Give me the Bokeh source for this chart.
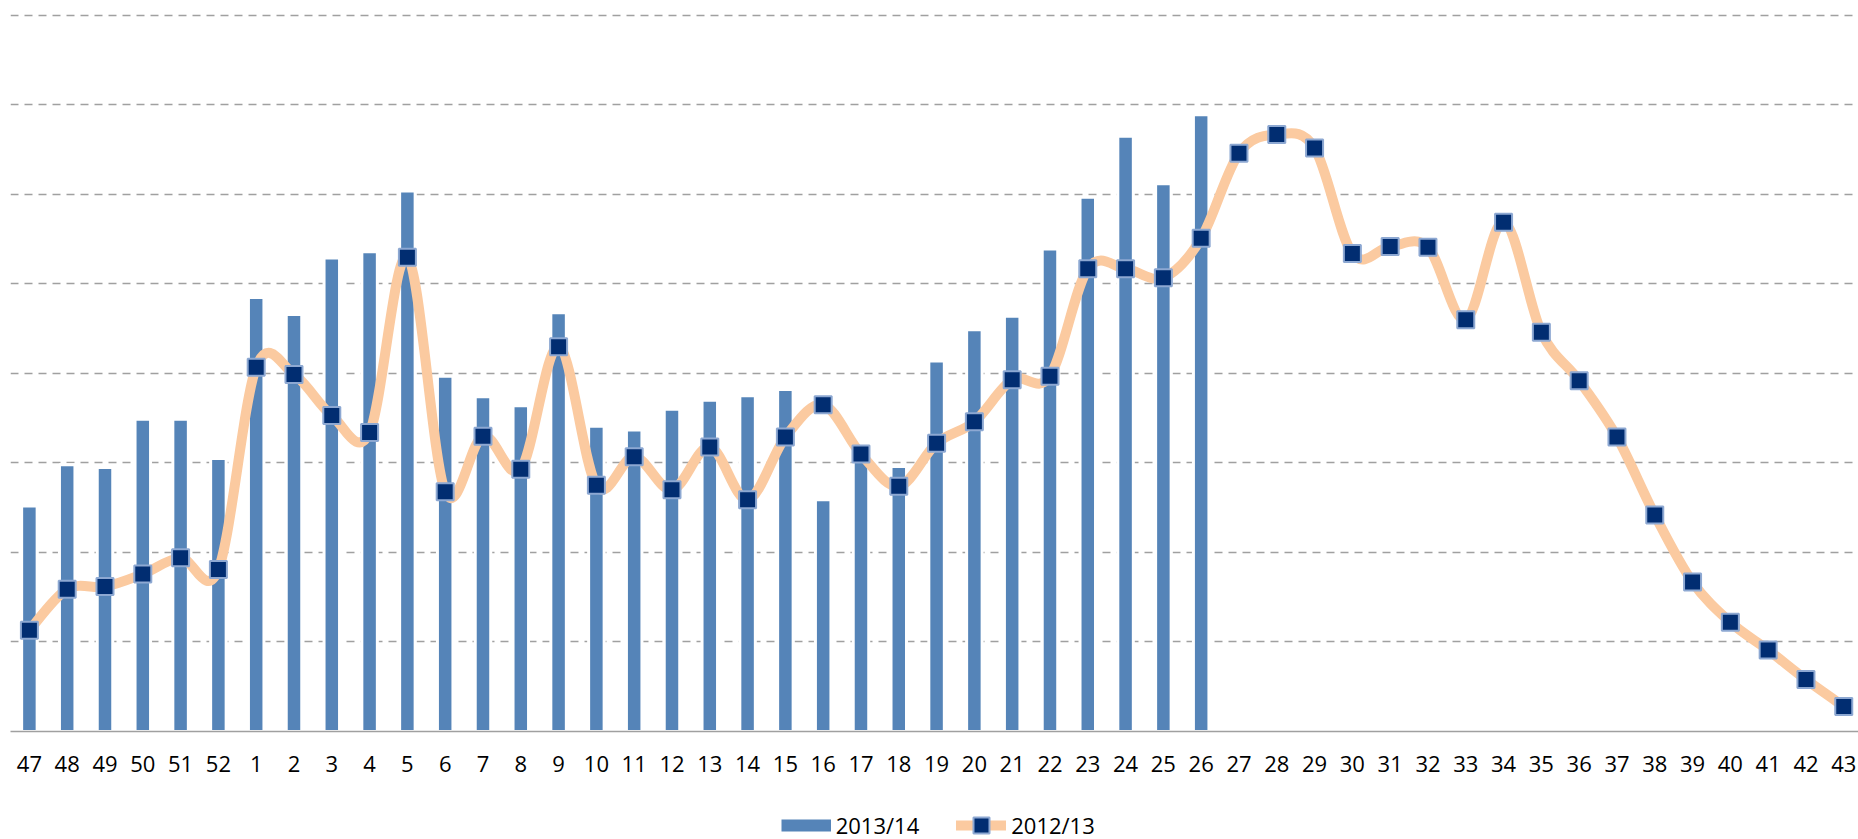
from bokeh.plotting import figure
from bokeh.layouts import column
from bokeh.models import Range1d, FixedTicker, Legend, LegendItem
from bokeh.embed import file_html
from bokeh.resources import INLINE

# Week labels (x axis categories)
weeks = ["47", "48", "49", "50", "51", "52"] + [str(i) for i in range(1, 44)]

# 2013/14 season (bars) - weeks 47..26
season_1314 = [2.52, 2.98, 2.95, 3.49, 3.49, 3.05,
               4.85, 4.66, 5.29, 5.36, 6.04, 3.97, 3.74, 3.64, 4.68, 3.41,
               3.37, 3.60, 3.70, 3.75, 3.82, 2.59, 3.21, 2.96, 4.14, 4.49,
               4.64, 5.39, 5.97, 6.65, 6.12, 6.89]

# 2012/13 season (line) - weeks 47..43
season_1213 = [1.13, 1.59, 1.62, 1.76, 1.94, 1.81,
               4.07, 3.99, 3.53, 3.34, 5.30, 2.68, 3.30, 2.93, 4.30, 2.75,
               3.07, 2.70, 3.18, 2.59, 3.29, 3.65, 3.10, 2.74, 3.22, 3.46,
               3.93, 3.97, 5.17, 5.17, 5.07, 5.51, 6.46, 6.67, 6.52, 5.34,
               5.42, 5.41, 4.60, 5.69, 4.46, 3.92, 3.29, 2.42, 1.67, 1.22,
               0.91, 0.58, 0.28]

grid_levels = [1, 2, 3, 4, 5, 6, 7, 8]

FONT = "Open Sans"
BAR_COLOR = "#5584B8"
LINE_COLOR = "#FBCAA0"
MARKER_FILL = "#012D71"
MARKER_LINE = "#8DA8D2"
GRID_COLOR = "#A0A0A0"

xb = list(range(len(season_1314)))
xl = list(range(len(season_1213)))

p = figure(frame_width=1848, frame_height=722,
           x_range=Range1d(-0.5, 48.39), y_range=Range1d(0, 8.067),
           output_backend="svg", toolbar_location=None,
           min_border_left=10, min_border_right=0, min_border_top=9,
           min_border_bottom=64)
p.outline_line_color = None
p.background_fill_color = "white"
p.border_fill_color = "white"

p.yaxis.visible = False
p.xgrid.visible = False
p.ygrid.ticker = FixedTicker(ticks=grid_levels)
p.ygrid.grid_line_color = GRID_COLOR
p.ygrid.grid_line_width = 1.5
p.ygrid.grid_line_dash = "8 6"

ax = p.xaxis[0]
ax.ticker = FixedTicker(ticks=xl)
ax.major_label_overrides = {i: w for i, w in enumerate(weeks)}
ax.major_tick_in = 0
ax.major_tick_out = 0
ax.minor_tick_in = 0
ax.minor_tick_out = 0
ax.axis_line_color = GRID_COLOR
ax.axis_line_width = 1.5
ax.major_label_standoff = 24
ax.major_label_text_font = FONT
ax.major_label_text_font_size = "22px"
ax.major_label_text_color = "black"

p.vbar(x=xb, top=season_1314, bottom=0, width=0.41,
       fill_color=BAR_COLOR, line_color="white", line_width=3)

# smoothed line (Bezier segments with control points derived from the data)
n = len(season_1213)
x0s, y0s, x1s, y1s, cx0, cy0, cx1, cy1 = [], [], [], [], [], [], [], []
for i in range(n - 1):
    ip = max(i - 1, 0)
    i2 = min(i + 2, n - 1)
    x0s.append(xl[i]); y0s.append(season_1213[i])
    x1s.append(xl[i + 1]); y1s.append(season_1213[i + 1])
    cx0.append(xl[i] + (xl[i + 1] - xl[ip]) / 6.0)
    cy0.append(season_1213[i] + (season_1213[i + 1] - season_1213[ip]) / 6.0)
    cx1.append(xl[i + 1] - (xl[i2] - xl[i]) / 6.0)
    cy1.append(season_1213[i + 1] - (season_1213[i2] - season_1213[i]) / 6.0)

p.bezier(x0=x0s, y0=y0s, x1=x1s, y1=y1s, cx0=cx0, cy0=cy0, cx1=cx1, cy1=cy1,
         line_color=LINE_COLOR, line_width=10, line_cap="round", line_join="round")

p.scatter(x=xl, y=season_1213, marker="square", size=17,
          fill_color=MARKER_FILL, line_color=MARKER_LINE, line_width=2)

# legend strip underneath (its series renderers lie outside this strip's view)
lg = figure(width=1858, height=44, output_backend="svg", toolbar_location=None,
            x_axis_location=None, y_axis_location=None,
            x_range=Range1d(-0.5, 48.39), y_range=Range1d(-20, -19),
            min_border_left=0, min_border_right=0, min_border_top=0,
            min_border_bottom=0)
lg.outline_line_color = None
lg.xgrid.visible = False
lg.ygrid.visible = False
lbar = lg.line(x=xb, y=season_1314, line_color=BAR_COLOR, line_width=12,
               line_cap="butt")
lline = lg.line(x=xl, y=season_1213, line_color=LINE_COLOR, line_width=10,
                line_cap="round")
lmark = lg.scatter(x=xl, y=season_1213, marker="square", size=17,
                   fill_color=MARKER_FILL, line_color=MARKER_LINE, line_width=2)

legend = Legend(items=[LegendItem(label="2013/14", renderers=[lbar]),
                       LegendItem(label="2012/13", renderers=[lline, lmark])],
                location=(770.7, -6), orientation="horizontal",
                padding=0, spacing=37, margin=0,
                glyph_width=50, glyph_height=40, label_standoff=5,
                label_text_font=FONT, label_text_font_size="22px",
                label_text_color="black",
                border_line_color=None, background_fill_alpha=0)
lg.add_layout(legend)

layout = column(p, lg, spacing=0)
open("out.html", "w").write(file_html(layout, INLINE))
